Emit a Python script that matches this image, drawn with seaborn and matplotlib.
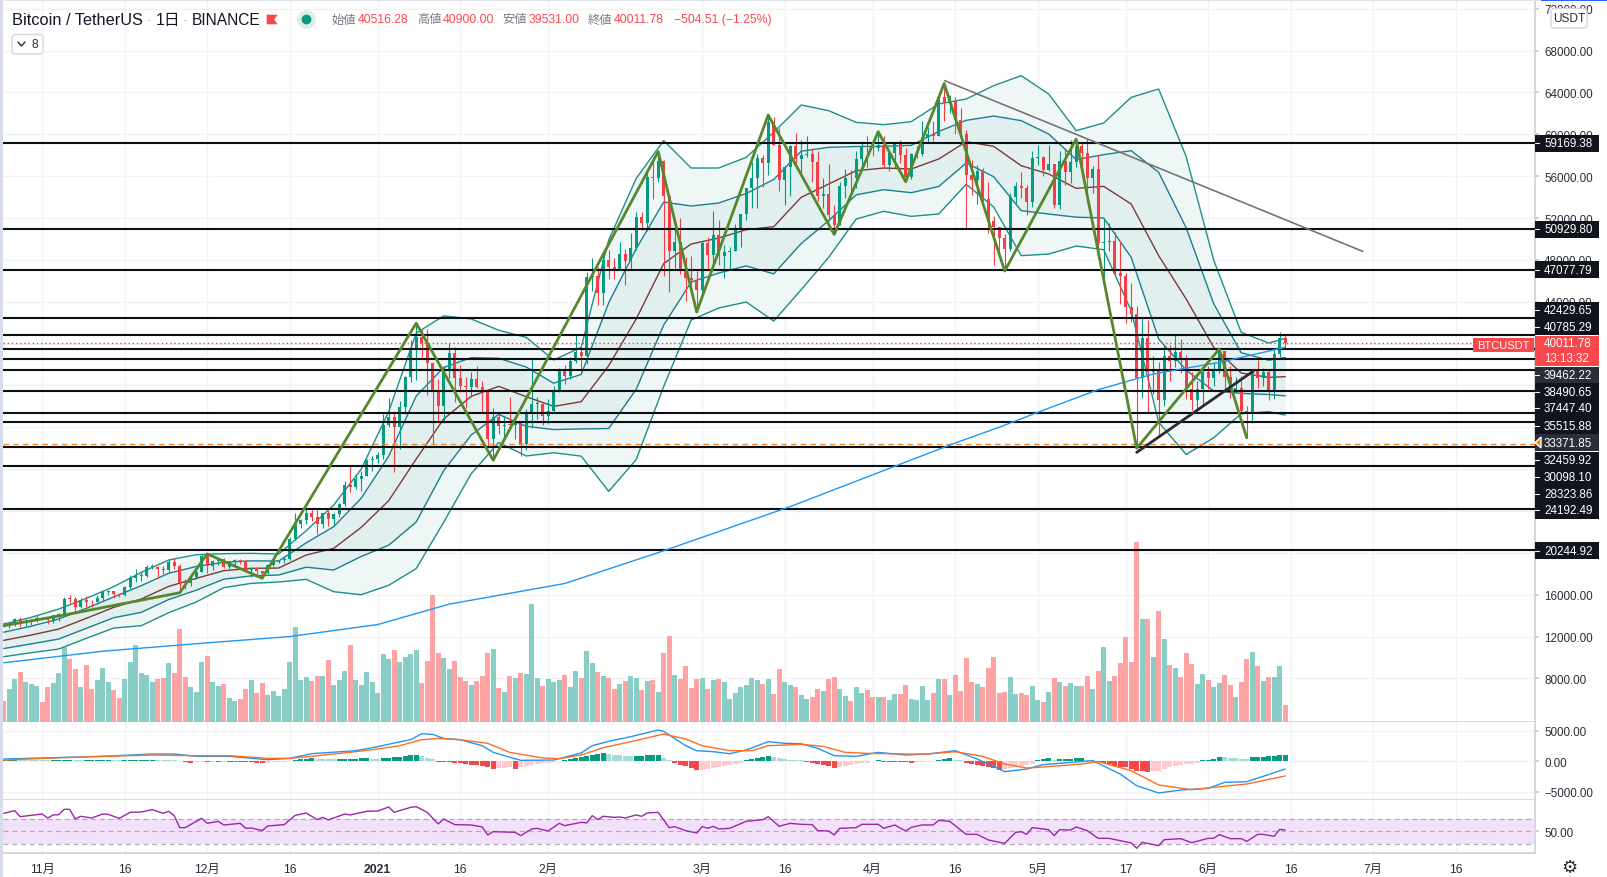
#!/usr/bin/env python3
from __future__ import annotations

import matplotlib

matplotlib.use("Agg")

import matplotlib.pyplot as plt
import numpy as np
import pandas as pd
import seaborn as sns
from matplotlib.lines import Line2D
from matplotlib.patches import FancyBboxPatch, Polygon, Rectangle
from matplotlib.transforms import Affine2D

sns.set_theme(style="white")
plt.rcParams["font.family"] = ["Liberation Sans", "Noto Sans CJK JP", "DejaVu Sans"]

# days are counted from 1 Nov 2020, first candle is 25 Oct
first_open = 13108
closes = [
    13031, 13075, 13640, 13271, 13455, 13560, 13803,
    13758, 13562, 14030, 14145, 15590, 15580, 14840, 15480, 15332, 15290, 15701, 16276, 16317, 16068, 15955,
    16716, 17645, 17804, 17817, 18650, 18680, 18420, 18365, 19160, 18720, 17150, 17139, 17720, 18185, 19695,
    18765, 19205, 19422, 18650, 19147, 19359, 19166, 18324, 18541, 18254, 18036, 18808, 19175, 19273, 19426,
    21335, 22797, 23107, 23821, 23455, 22719, 23810, 23232, 23729, 24712, 26493, 26281, 27079, 27385, 28875, 28923,
    29331, 32178, 33000, 31988, 33949, 36769, 39432, 40582, 40088, 38150, 35404, 34051, 37371, 39144, 36742, 35994,
    35828, 36631, 35891, 35468, 30850, 32945, 32078, 32259, 32254, 32467, 30366, 33364, 34252, 34262, 33092,
    33526, 35466, 37618, 36936, 38290, 39186, 38795, 46374, 46420, 44807, 47969, 47287, 47153, 48577,
    47911, 49133, 52119, 51552, 55906, 55841, 57408, 54087, 48891, 49676, 47073, 46276, 46106, 45135,
    49587, 48440, 50349, 48374, 48751, 48882, 50971, 52375, 54884, 55851, 57773, 57221, 61188, 58968, 55605,
    56900, 58912, 57648, 58030, 58102, 57351, 54083, 54340, 52303, 51293, 55025, 55817, 55777, 57635, 58746, 58740,
    58720, 58950, 57051, 58202, 59129, 57991, 55953, 58077, 58131, 59770, 60007, 59856, 63576, 62960, 63159,
    61334, 60006, 56150, 55662, 56473, 53800, 51701, 51187, 50088, 49004, 54021, 55033, 54877, 53556, 57697,
    57797, 56578, 57169, 53200, 57436, 56393, 57315, 58862, 58240, 55816, 56670, 49631, 49670, 49841, 46762,
    46431, 43538, 42849, 36690, 40526, 37252, 37449, 34655, 38796, 38324, 39241, 38529, 35664, 34605, 35641, 37253,
    36693, 37568, 39246, 36829, 35513, 35796, 33552, 33380, 37388, 36675, 37331, 35546, 39020, 40516, 40011,
]
highs = [
    13350, 13250, 13780, 13860, 13650, 13680, 14100,
    13900, 13830, 14070, 14260, 15750, 15960, 15770, 15650, 15850, 15460, 15960, 16340, 16480, 16330, 16180,
    16880, 17860, 18480, 18180, 18800, 18970, 18700, 18770, 19420, 19480, 18920, 17470, 17880, 18350, 19860,
    19920, 19300, 19540, 19500, 19180, 19420, 19420, 19290, 18640, 18560, 18300, 18950, 19410, 19350, 19570,
    21560, 23770, 23280, 24170, 24300, 24100, 23840, 24100, 23800, 24780, 26870, 28420, 27500, 27850, 28990, 29300,
    29600, 33300, 34780, 33600, 34500, 36930, 40360, 41950, 41380, 41350, 38260, 36630, 37850, 40100, 39700, 37950,
    36850, 37300, 37850, 36400, 35600, 33860, 33450, 33070, 34880, 32920, 32550, 33780, 38530, 34930, 34290,
    34720, 35980, 37660, 38000, 38700, 40960, 39700, 46800, 48200, 47300, 48630, 48990, 48150, 49700,
    49000, 50600, 52620, 52530, 56370, 57500, 58350, 57530, 54180, 51370, 52040, 48280, 48390, 46950,
    49790, 50200, 52640, 51770, 49450, 49200, 51450, 52400, 54900, 57390, 58150, 58050, 61844, 61700, 60600,
    56940, 59000, 60100, 59450, 59880, 58600, 58400, 55830, 57200, 53240, 55450, 56650, 56600, 58400, 59400, 59800,
    59490, 60000, 59790, 58490, 59250, 59480, 58650, 58190, 58900, 61250, 60700, 61300, 64000, 64854, 63800,
    63520, 62500, 60400, 57500, 57100, 56760, 55400, 52200, 51180, 50500, 54350, 55460, 56430, 55200, 58450,
    58980, 57940, 58970, 57200, 58360, 58650, 59500, 59500, 59300, 59600, 57000, 58000, 52000, 51500, 50700,
    49800, 46700, 45800, 43550, 42450, 42250, 38850, 38270, 39900, 39850, 40900, 40400, 38900, 37240, 36400, 37500,
    37890, 38240, 39480, 39280, 37900, 36800, 36900, 34070, 37530, 38400, 37680, 37440, 39380, 41064, 40900,
]
lows = [
    12888, 12800, 13050, 12950, 12980, 13130, 13420,
    13620, 13200, 13300, 13530, 14090, 15170, 14340, 14700, 14820, 14850, 15280, 15430, 15960, 15710, 15770,
    15860, 16540, 17210, 17340, 17740, 18420, 17610, 18000, 18060, 18500, 16190, 16500, 16880, 17510, 18180,
    18110, 18330, 18860, 18570, 18500, 18860, 18900, 18200, 17650, 17910, 17570, 18020, 18710, 19000, 19050,
    19290, 21230, 22350, 22750, 23060, 21810, 22350, 22600, 22700, 23400, 24500, 25800, 26100, 25880, 27320, 27850,
    28620, 28950, 32000, 27730, 29900, 33300, 36300, 36500, 38720, 35110, 30420, 32530, 32380, 36700, 34400, 35360,
    33850, 34850, 35760, 33400, 30070, 28850, 31390, 30900, 31910, 30840, 29240, 29840, 31970, 32840, 32200,
    32300, 33420, 35360, 36160, 36630, 38140, 37350, 38050, 45000, 43730, 43730, 46200, 46200, 47100,
    45570, 47000, 48950, 50900, 50720, 53860, 55480, 46500, 44900, 47000, 46670, 44100, 45000, 43020,
    44950, 47000, 47500, 47500, 46300, 47070, 48880, 49270, 51800, 53000, 53000, 55000, 56080, 58950, 54570,
    53270, 54100, 57000, 56270, 57820, 55450, 53650, 53000, 51700, 50430, 51300, 53950, 54600, 54900, 57000, 56870,
    57930, 58450, 56800, 56530, 56800, 57300, 55470, 55700, 57700, 57900, 59300, 59370, 59800, 61300, 62000,
    60000, 59580, 51000, 54220, 53330, 53600, 50600, 47500, 48750, 46930, 48800, 53220, 53900, 52330, 53070,
    57050, 56030, 56500, 53000, 52900, 55200, 55300, 56900, 56235, 53400, 54400, 48600, 46000, 48800, 46555,
    43800, 42000, 42100, 30000, 34800, 33500, 35200, 31100, 34030, 36400, 37800, 37200, 34680, 33630, 33380, 34150,
    35700, 35900, 37170, 35560, 34800, 35230, 33300, 31000, 32400, 35750, 35930, 34600, 34750, 38730, 39531,
]
# volume in bar height units
volumes = [
    21, 33, 43, 50, 40, 38, 36, 20, 35, 39, 49, 75, 63, 53, 35, 57, 33, 42, 54, 40, 32, 24, 43, 60, 77, 49, 47, 40,
    43, 44, 59, 49, 93, 45, 35, 30, 60, 66, 40, 36, 38, 24, 21, 23, 33, 42, 29, 39, 27, 31, 26, 33, 60, 95, 42, 45,
    41, 46, 46, 62, 37, 42, 51, 77, 42, 37, 50, 40, 29, 68, 63, 72,
    60, 65, 68, 72, 39, 61, 127, 69, 64, 53, 61, 45, 41, 37, 41, 46, 69, 73, 34, 30, 46, 44, 49, 48, 118, 44, 36,
    43, 40, 42, 47, 35, 51, 44, 71, 59, 50, 46, 44, 33, 38, 41, 46, 44, 32, 41, 42, 30, 69, 86, 47, 43, 56, 34, 43,
    44, 33, 42, 43, 40, 23, 29, 35, 37, 44, 42, 38, 43, 28, 53,
    40, 37, 35, 27, 23, 25, 33, 31, 43, 45, 33, 26, 21, 35, 29, 32,
    25, 25, 25, 22, 28, 28, 37, 23, 22, 36, 22, 29, 43, 43, 27, 47, 31, 64, 40, 38, 35, 54, 65, 29, 30, 45, 28, 29,
    27, 36,
    22, 20, 30, 44, 40, 36, 39, 36, 36, 46, 33, 51, 75, 41, 46, 59, 85, 60, 180, 103, 103, 65, 111, 83, 57, 54, 45,
    69, 58, 38, 48,
    42, 35, 39, 47, 37, 25, 40, 63, 70, 56, 41, 45, 45, 56, 17,
]

band_days = [
    -7, -2, 3, 8, 13, 18, 23, 28, 33, 38, 43, 48, 53, 58, 63, 68, 73, 78, 83, 88, 93, 98, 103, 108,
    113, 118, 123, 128, 133, 138, 143, 148, 153, 158, 163, 168, 173, 178, 183, 188, 193, 198, 203, 208,
    213, 218, 223, 226,
]
band_outer_upper = [
    13199, 13836, 14632, 15652, 16767, 18137, 19316, 19825, 19921, 19953, 19889, 22119, 24572, 28000, 33500, 41000,
    42650, 42355, 41277, 40591, 38435, 39650, 49900, 55781, 59400, 56779, 56779, 57798, 60188, 62800, 62258, 61143,
    60920, 61207, 62896, 63374, 64648, 65604, 63851, 60347, 61080, 63533, 64329, 57862, 47985, 41074, 40054, 40500,
]
band_inner_upper = [
    12418, 12992, 13676, 14696, 15779, 16862, 18057, 18694, 19108, 19236, 19220, 20956, 22501, 25219, 29243, 34983,
    37720, 38656, 38595, 37758, 36218, 37048, 43894, 49064, 53524, 53147, 53433, 54341, 55680, 58387, 58754, 58833,
    58849, 58945, 60267, 61335, 61748, 61303, 60028, 57591, 58053, 58435, 56364, 51061, 43812, 39130, 38413, 38668,
]
band_middle = [
    11637, 12147, 12720, 13740, 14791, 15588, 16799, 17563, 18296, 18519, 18551, 19794, 20431, 22438, 24987, 28967,
    32790, 34957, 35913, 34925, 34001, 34447, 37888, 42348, 47647, 49515, 50088, 50884, 51171, 53975, 55250, 56524,
    56779, 56683, 57639, 59296, 58849, 57002, 56205, 54835, 55026, 53338, 48400, 44260, 39640, 37187, 36773, 36837,
]
band_inner_lower = [
    10856, 11302, 11764, 12784, 13803, 14313, 15540, 16432, 17483, 17802, 17882, 18631, 18360, 19657, 20730, 22950,
    27860, 31258, 33231, 32092, 31784, 31846, 31882, 35632, 41770, 45883, 46742, 47427, 46662, 49562, 51746, 54214,
    54708, 54421, 55010, 57257, 55949, 52701, 52382, 52079, 51999, 48240, 40435, 37459, 35467, 35243, 35132, 35005,
]
band_outer_lower = [
    10075, 10458, 10808, 11828, 12815, 13039, 14282, 15301, 16671, 17085, 17213, 17469, 16290, 16000, 16900, 18500,
    22930, 27559, 30549, 29259, 29567, 29244, 25876, 28915, 35894, 42251, 43397, 43970, 42154, 45150, 48242, 51905,
    52638, 52159, 52382, 55218, 53050, 48400, 48559, 49323, 48972, 43143, 32471, 29400, 31000, 33300, 33492, 33174,
]

ma_days = [-7, 11, 30, 45, 61, 74, 95, 113, 136, 166, 174, 181, 192, 202, 214, 226]
ma_values = [9500, 10600, 11400, 12000, 13150, 15100, 17070, 20200, 24420, 30500, 32000, 33427, 35597, 37092, 38203, 39640]

zigzag_days = [-7, 4, 25, 30, 40, 68, 82, 112, 119, 132, 144, 152, 157, 164, 175, 188, 199, 214, 219]
zigzag_values = [13040, 14059, 16190, 19900, 17570, 41950, 28850, 58350, 43020, 61844, 50430, 60250, 55470, 64854, 46930, 59550, 30000, 39480, 31000]

level_prices = [
    59169.38, 50929.80, 47077.79, 42429.65, 40785.29, 39462.22, 38490.65, 37447.40, 35515.88, 33371.85, 32459.92,
    30098.10, 28323.86, 24192.49, 20244.92,
]
last_price = 40011.78
alert_price = 30433
support_days = [199, 220.3]
support_values = [29604, 37410]
resist_days = [164.1, 240.1]
resist_values = [65126, 48814]

macd_days = [
    -7, 2, 11, 20, 24, 28, 34, 41, 45, 49, 57, 61, 64, 67, 69, 71, 73, 76, 80, 82, 87, 93, 98, 100, 103, 107, 112,
    113, 117, 119, 122, 125, 128, 132, 135, 138, 141, 144, 148, 152, 157, 161, 166, 170, 175, 179, 182, 187, 191,
    196, 199, 203, 207, 212, 215, 219, 222, 226,
]
macd_values = [
    383, 601, 820, 1202, 1202, 820, 820, 274, 492, 1257, 1748, 2403, 3004, 3550, 4533, 4423, 3768, 3550, 2567, 1475,
    165, 219, 1366, 2567, 3277, 4041, 5133, 4915, 2567, 1748, 1584, 1257, 1857, 3222, 2949, 2895, 2130, 929, 820,
    1475, 1038, 1202, 1748, 383, -1692, -1255, -545, -163, 110, -2074, -3985, -5186, -4695, -4422, -3439, -3330,
    -2456, -1255,
]
signal_days = [
    -7, 2, 11, 20, 28, 34, 41, 45, 49, 57, 61, 65, 69, 72, 76, 81, 85, 91, 94, 98, 102, 107, 113, 117, 120, 125, 129,
    132, 138, 142, 146, 150, 157, 161, 166, 171, 175, 179, 182, 189, 192, 198, 203, 209, 213, 219, 226,
]
signal_values = [
    219, 547, 820, 1038, 929, 929, 492, 492, 820, 1584, 2021, 2567, 3550, 3768, 3550, 2949, 1475, 547, 438, 1038,
    2239, 3222, 4478, 3659, 2567, 1748, 1748, 2567, 2785, 2458, 1475, 1311, 1202, 1202, 1584, 820, -436, -1091, -927,
    -436, -44, -1528, -3876, -4640, -4258, -3712, -2402,
]
macd_hist = [
    240, 260, 270, 250, 235, 220, 205, 190, 170, 200, 225, 240, 255, 225, 205, 220, 235, 250, 265, 280, 200, 150,
    200, 220, 240, 255, 270, 285, 250, 225, 210, 190, 30, -150, -210, -130, -90, -120, -80, -110, -70, -100,
    -130, -150, -165, -180, -200, -215, -190, -170, -150, -120, 100, 250, 330, 430, 560, 400, 380, 360, 340,
    380, 400, 430, 460, 490, 510, 450, 430, 520, 560, 640, 700, 800, 960, 1100, 800, 600, 400, -50, -100,
    -150, -280, -350, -450, -550, -650, -800, -1000, -1200, -1100, -1050, -1000, -1200, -850, -700, -550, -400,
    -300, -200, -120, 100, 200, 350, 500, 650, 800, 1000, 1200, 1300, 1200, 1100, 1000, 900, 800,
    880, 930, 960, 980, 1000, 500, 150, -300, -550, -750, -1100, -1400, -1350, -1200, -1050, -950, -800, -650, -450,
    -200, 200, 400, 550, 700, 800, 650, 500, 350, 300, 250, 200, -60, -250, -450, -600, -800, -1100,
    -1000, -800, -650, -500, -350, -200, 100, 220, -50, -80, -100, -110, -120, -200, -170, -150,
    80, 120, 260, 380, 540, 300, 200, -250, -400, -600, -800, -1000, -1150, -1350, -1250, -1050, -900, -800, -650, -500,
    250, 400, 550, 200, 320, 400, 450, 500, 550, 300, 250, -100, -300, -500, -700, -850, -1000, -1200, -1500, -1650,
    -1700, -1650, -1500, -1200, -1000, -800, -600, -500, -400, -300, 200, 300, 450, 750, 650, 600, 500, 450, 400,
    650, 700, 750, 800, 900, 1000, 1100,
]

rsi_days = [
    -7, -5, -4, 0, 1, 2, 3, 4, 5, 6, 7, 9, 11, 12, 14, 16, 18, 20, 22, 23, 24, 25, 26, 29, 30, 32, 33, 36, 37, 38, 40,
    41, 44, 46, 48, 50, 51, 52, 55, 56, 59, 61, 63, 64, 67, 68, 70, 72, 73, 75, 78, 80, 81, 82, 86, 87, 89, 90, 92,
    94, 95, 98, 99, 100, 101, 102, 104, 105, 106, 108, 109, 110, 112, 114, 115, 117, 119, 120, 121, 122, 123, 125,
    128, 131, 132, 134, 136, 138, 140, 141, 143, 144, 145, 148, 149, 152, 153, 155, 157, 158, 160, 162, 163, 165,
    168, 170, 172, 175, 177, 178, 179, 180, 183, 184, 185, 187, 188, 190, 192, 194, 198, 199, 200, 203, 204, 207,
    209, 212, 213, 214, 216, 218, 219, 221, 222, 224, 225, 226,
]
rsi_values = [
    78.5, 82.8, 73.2, 77.4, 71, 75.9, 76.4, 84.9, 84.9, 69.5, 73.7, 71, 77.4, 76.9, 70.5, 80.1, 80.6, 84.4, 78.5,
    81.7, 74.8, 55.6, 55.6, 70.5, 62.5, 65.7, 59.9, 62.5, 54.5, 55.1, 50.8, 58.3, 60.4, 75.3, 79, 68.4, 72.1, 67.9,
    77.4, 75.9, 81.7, 82.2, 88.6, 80.1, 88.1, 89.2, 80.1, 61.5, 69.5, 60.4, 59.9, 56.7, 43.9, 49.2, 48.1, 42.8, 53.5,
    54.5, 50.3, 62.5, 58.8, 64.1, 63.1, 74.8, 68.4, 73.7, 72.1, 72.7, 71, 75.9, 73.7, 79, 80.1, 55.6, 57.2, 50.8,
    47.1, 57.2, 54.5, 57.7, 53.5, 54.5, 65.7, 68.4, 73.2, 57.7, 62.5, 60.9, 60.4, 50.8, 50.3, 43.9, 54.5, 55.6, 60.9,
    60.9, 54.5, 59.9, 50.3, 56.1, 59.9, 59.9, 67.3, 65.7, 44.9, 44.9, 35.9, 30.5, 48.1, 49.2, 44.9, 55.6, 52.4, 42.8,
    52.4, 51.9, 56.7, 50.8, 38.5, 38.5, 31.1, 22.6, 32.1, 26.8, 36.4, 38, 31.6, 38.5, 38.5, 44.4, 38, 38, 33.7, 44.9,
    44.9, 41.7, 52.9, 51.9,
]

price_ticks = list(range(8000, 76000, 4000))
# these sit fully under the level boxes on the scale
hidden_ticks = [20000, 24000, 28000, 32000, 36000, 40000]
macd_ticks = [-5000, 0, 5000]
date_ticks = [0, 15, 30, 45, 61, 76, 92, 120, 135, 151, 166, 181, 197, 212, 227, 242, 257]
date_labels = ["11月", "16", "12月", "16", "2021", "16", "2月", "3月", "16", "4月", "16", "5月", "17", "6月", "16", "7月", "16"]

# text boxes on the price scale: price text and its slot on the axis
label_slots = {
    "59169.38": 144, "50929.80": 230, "47077.79": 270.7, "42429.65": 311, "40785.29": 327.7, "39462.22": 376,
    "38490.65": 392.7, "37447.40": 409.3, "35515.88": 426.7, "33371.85": 443.7, "32459.92": 461, "30098.10": 477.7,
    "28323.86": 494.7, "24192.49": 511, "20244.92": 551.7,
}

WIDTH, HEIGHT = 1608, 878
GREEN = "#089981"
RED = "#f23f45"
GRID = "#f0f2f6"
TEXT = "#2a2e39"
PIX = Affine2D().scale(1, -1).translate(0, HEIGHT)


def _add_axes(fig, top, bottom, **kwargs):
    left, right = 3, 1535
    return fig.add_axes(
        [left / WIDTH, 1 - bottom / HEIGHT, (right - left) / WIDTH, (bottom - top) / HEIGHT], **kwargs
    )


def _line(ax, xs, ys, color, width, zorder, **kwargs):
    sns.lineplot(
        x=xs, y=ys, ax=ax, color=color, linewidth=width, zorder=zorder, estimator=None, sort=False,
        errorbar=None, legend=False, **kwargs,
    )


def _style_pane(ax, yticks=None, labels=None):
    ax.yaxis.tick_right()
    ax.set_xticks(date_ticks)
    if yticks is not None:
        ax.set_yticks(yticks)
        ax.set_yticklabels(labels)
    ax.grid(True, color=GRID, linewidth=1.0)
    ax.set_axisbelow(True)
    ax.tick_params(axis="x", length=0, labelbottom=False)
    ax.tick_params(axis="y", length=3, color="#c8cad2", pad=3.5, labelsize=8.4, labelcolor=TEXT)
    ax.set_xlabel("")
    ax.set_ylabel("")
    for side in ("top", "left"):
        ax.spines[side].set_visible(False)
    for side in ("bottom", "right"):
        ax.spines[side].set_color("#d5d7de")
        ax.spines[side].set_linewidth(1.4)


def _draw_price(ax, days, opens):
    days = np.array(days)
    up = np.array(closes) >= np.array(opens)
    ax.fill_between(band_days, band_outer_lower, band_outer_upper, color="#eef7f6", linewidth=0, zorder=1)
    ax.fill_between(band_days, band_inner_lower, band_inner_upper, color="#e1f0ee", linewidth=0, zorder=1.1)
    _line(ax, band_days, band_outer_upper, "#1f8f88", 1.0, 2)
    _line(ax, band_days, band_outer_lower, "#1f8f88", 1.0, 2)
    _line(ax, band_days, band_inner_upper, "#1b7f8e", 1.0, 2)
    _line(ax, band_days, band_inner_lower, "#1b7f8e", 1.0, 2)
    _line(ax, band_days, band_middle, "#7b3a3a", 1.0, 2)

    colors = np.where(up, GREEN, RED)
    ax.vlines(days, lows, highs, colors=colors, linewidth=0.8, zorder=3)
    bottoms = np.minimum(opens, closes)
    heights = np.maximum(np.abs(np.array(closes) - np.array(opens)), 60)
    ax.bar(days, heights, bottom=bottoms, width=0.6, color=colors, linewidth=0, zorder=3.1)

    for level in level_prices:
        ax.axhline(level, color="#0b0e14", linewidth=1.5, zorder=4)
    ax.axhline(last_price, color="#f23f45", linewidth=1.0, linestyle=(0, (1, 2)), zorder=4.1)
    ax.axhline(alert_price, color="#f5892a", linewidth=1.0, linestyle=(0, (4, 3)), zorder=4.1)
    _line(ax, ma_days, ma_values, "#2196f3", 1.0, 4.2)
    _line(ax, zigzag_days, zigzag_values, "#55872b", 2.0, 5)
    _line(ax, support_days, support_values, "#2c2c30", 2.0, 5)
    _line(ax, resist_days, resist_values, "#77737a", 1.2, 5)


def _draw_overlay(fig):
    def box(x0, y0, x1, y1, color):
        fig.add_artist(Rectangle((x0, y0), x1 - x0, y1 - y0, transform=PIX, facecolor=color, linewidth=0, zorder=2))

    def label(x, y, text, size=8.4, color=TEXT, ha="left", **kwargs):
        fig.text(x, y, text, transform=PIX, fontsize=size, color=color, ha=ha, va="center", zorder=4, **kwargs)

    def button(x0, y0, x1, y1):
        fig.add_artist(
            FancyBboxPatch(
                (x0, y0), x1 - x0, y1 - y0, boxstyle="round,pad=0,rounding_size=3", transform=PIX,
                facecolor="white", edgecolor="#d5d7de", linewidth=1.0, zorder=3,
            )
        )

    # window edges
    box(0, 0, 3, HEIGHT, "#d6dcea")
    box(0, 0, 1541, 2, "#e0e3eb")
    box(1541, 0, WIDTH, 2, "#2962ff")

    # levels on the price scale
    for text, slot in label_slots.items():
        shade = "#2a2e39" if text in ("39462.22", "33371.85") else "#11141c"
        box(1535, slot - 8.5, 1599, slot + 8.5, shade)
        fig.add_artist(Line2D([1535, 1539], [slot, slot], transform=PIX, color="white", linewidth=0.8, zorder=3))
        label(1544, slot, text, color="white")
    fig.add_artist(Polygon([[1535, 443.7], [1541, 438], [1541, 449]], transform=PIX, facecolor="#f5892a", zorder=3))

    # last price
    box(1473, 339, 1534, 353, "#f8484c")
    label(1503.5, 346, "BTCUSDT", size=8.0, color="white", ha="center")
    box(1535, 337, 1599, 367, "#f8484c")
    label(1544, 344.5, "40011.78", color="white")
    label(1544, 359, "13:13:32", color="white")

    # header
    label(12, 21, "Bitcoin / TetherUS", size=11.8, color="#131722")
    label(147, 21, "·", size=9, color="#787b86")
    label(156, 21, "1日", size=11.4, color="#131722")
    label(183, 21, "·", size=9, color="#787b86")
    label(192, 21, "BINANCE", size=11.2, color="#131722")
    fig.add_artist(
        Polygon([[266, 15], [279, 15], [275, 20.5], [279, 26], [266, 26]], transform=PIX, facecolor="#f8484c", zorder=3)
    )
    fig.add_artist(Line2D([306], [20], transform=PIX, marker="o", markersize=12.5, color="#dceeeb", zorder=3))
    fig.add_artist(Line2D([306], [20], transform=PIX, marker="o", markersize=6, color="#089981", zorder=3))
    for x, text in ((331.6, "始値"), (416.8, "高値"), (502.5, "安値"), (587.8, "終値")):
        label(x, 20.5, text, size=8.8, color="#787b86")
    for x, text in ((357.6, "40516.28"), (443, "40900.00"), (529, "39531.00"), (613.8, "40011.78"), (673.5, "−504.51 (−1.25%)")):
        label(x, 20.5, text, size=8.8, color="#f8484c")

    button(12, 35.5, 43, 55)
    fig.add_artist(Line2D([18, 21.5, 25], [43, 47, 43], transform=PIX, color="#2a2e39", linewidth=1.0, zorder=4))
    label(31, 45.5, "8", size=8.6)
    button(1551, 9.5, 1587, 29)
    label(1569, 19.5, "USDT", size=8.6, ha="center")

    label(1569.6, 868, "⚙", size=13, color="#2a2e39", ha="center", family="DejaVu Sans")


def main():
    days = list(range(-7, 227))
    opens = [first_open] + closes[:-1]
    for series in (closes, highs, lows, volumes, macd_hist):
        assert len(series) == len(days), len(series)

    fig = plt.figure(figsize=(WIDTH / 100, HEIGHT / 100), dpi=100, facecolor="white")

    ax_grid = _add_axes(fig, 2, 722.7, zorder=0)
    ax_vol = _add_axes(fig, 2, 722.7, zorder=1, sharex=ax_grid)
    ax_price = _add_axes(fig, 2, 722.7, zorder=1.5, sharex=ax_grid, sharey=ax_grid)
    ax_macd = _add_axes(fig, 722.7, 801, sharex=ax_grid)
    ax_rsi = _add_axes(fig, 801, 854.3, sharex=ax_grid)

    # volume pane sits below the price drawing
    vol_df = pd.DataFrame({"day": days, "volume": volumes, "side": np.where(np.array(closes) >= np.array(opens), "up", "down")})
    sns.barplot(
        data=vol_df, x="day", y="volume", hue="side", palette={"up": "#82cbc3", "down": "#fe9e9e"}, native_scale=True,
        dodge=False, width=0.85, saturation=1, errorbar=None, legend=False, ax=ax_vol, alpha=0.95, linewidth=0,
    )
    ax_vol.set_ylim(0, 720.7)
    ax_vol.axis("off")

    _draw_price(ax_price, days, opens)
    ax_price.patch.set_visible(False)
    ax_price.axis("off")

    price_labels = ["" if tick in hidden_ticks else f"{tick:.2f}" for tick in price_ticks]
    _style_pane(ax_grid, price_ticks, price_labels)
    ax_grid.set_ylim(3865, 72739)

    tones = []
    previous = 0
    for value in macd_hist:
        rising = abs(value) > abs(previous) or (value > 0) != (previous > 0)
        tones.append(("up" if value >= 0 else "down") + ("_strong" if rising else "_soft"))
        previous = value
    hist_df = pd.DataFrame({"day": days, "hist": macd_hist, "tone": tones})
    sns.barplot(
        data=hist_df, x="day", y="hist", hue="tone",
        palette={"up_strong": "#089981", "up_soft": "#a7dbd5", "down_strong": "#f44848", "down_soft": "#ffc9cf"},
        native_scale=True, dodge=False, width=0.92, saturation=1, errorbar=None, legend=False, ax=ax_macd, linewidth=0,
    )
    _line(ax_macd, macd_days, macd_values, "#2196f3", 1.0, 4)
    _line(ax_macd, signal_days, signal_values, "#ff6d22", 1.0, 4)
    _style_pane(ax_macd, macd_ticks, ["−5000.00", "0.00", "5000.00"])
    ax_macd.set_ylim(-6333, 6498)

    ax_rsi.axhspan(30, 70, color="#f3e0fb", linewidth=0, zorder=1)
    for level in (30, 50, 70):
        ax_rsi.axhline(level, color="#b5a8bb", linewidth=0.9, linestyle=(0, (4, 3)), zorder=2)
    _line(ax_rsi, rsi_days, rsi_values, "#9c27a8", 1.0, 3)
    _style_pane(ax_rsi, [50], ["50.00"])
    ax_rsi.grid(False, axis="y")
    ax_rsi.set_ylim(14.6, 99.8)

    ax_grid.set_xlim(-7.127, 271.42)
    ax_rsi.set_xticks(date_ticks)
    ax_rsi.set_xticklabels(date_labels)
    ax_rsi.tick_params(axis="x", labelbottom=True, length=0, pad=7, labelsize=8.8, labelcolor=TEXT)
    for tick_label, text in zip(ax_rsi.get_xticklabels(), date_labels):
        if text == "2021":
            tick_label.set_fontweight("bold")

    _draw_overlay(fig)
    fig.savefig("out.png", dpi=100, facecolor="white")
    plt.close(fig)


if __name__ == "__main__":
    main()
